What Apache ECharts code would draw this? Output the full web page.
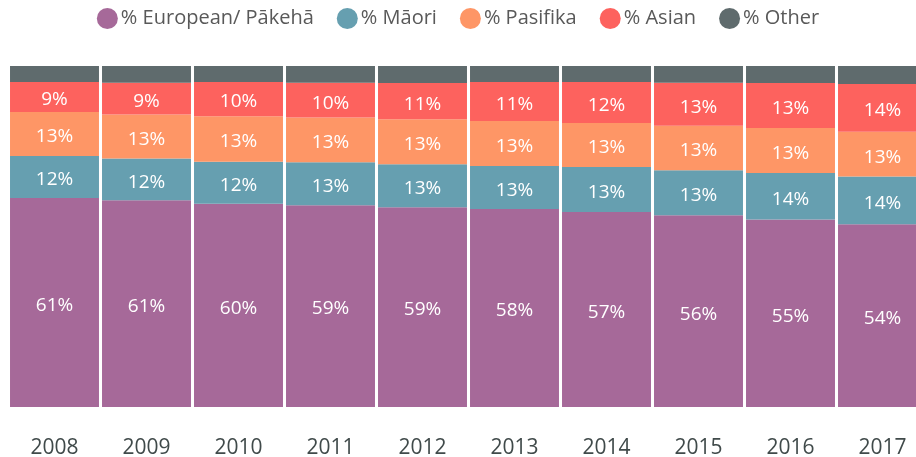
<!DOCTYPE html>
<html>
<head>
<meta charset="utf-8">
<script src="https://cdn.jsdelivr.net/npm/echarts@6/dist/echarts.min.js"></script>
<style>html,body{margin:0;padding:0;background:#fff;overflow:hidden;}#c{width:916px;height:457px;}</style>
</head>
<body>
<div id="c"></div>
<script>
var years = ['2008','2009','2010','2011','2012','2013','2014','2015','2016','2017'];
var european = [61.3, 60.6, 59.6, 59.2, 58.6, 58.1, 57.2, 56.2, 55.0, 53.6];
var maori    = [12.3, 12.3, 12.3, 12.6, 12.6, 12.6, 13.2, 13.2, 13.6, 14.0];
var pasifika = [12.9, 12.9, 13.4, 13.1, 13.2, 13.2, 12.9, 13.1, 13.2, 13.1];
var asian    = [8.8, 9.3, 10.0, 10.2, 10.6, 11.4, 12.0, 12.6, 13.2, 14.0];
var other    = [4.7, 4.9, 4.7, 4.9, 5.0, 4.7, 4.7, 4.9, 5.0, 5.3];
var seriesNames = ['% European/ Pākehā', '% Māori', '% Pasifika', '% Asian', '% Other'];
var colors = ['#A66999', '#669FB0', '#FE9666', '#FD625E', '#5F6B6D'];
var allData = [european, maori, pasifika, asian, other];

var FONT = '"Open Sans", sans-serif';
var chart = echarts.init(document.getElementById('c'), null, {renderer: 'canvas'});
var series = allData.map(function (d, i) {
  return {
    name: seriesNames[i],
    type: 'bar',
    stack: 'total',
    data: d,
    barCategoryGap: '3.3%',
    itemStyle: {color: colors[i]},
    label: {
      show: i < 4,
      position: 'inside',
      offset: [0, 3],
      color: '#ffffff',
      fontFamily: FONT,
      fontSize: 19,
      formatter: function (p) { return Math.round(p.value) + '%'; }
    }
  };
});
chart.setOption({
  animation: false,
  color: colors,
  legend: {
    top: 3,
    left: 'center',
    icon: 'circle',
    itemWidth: 21,
    itemHeight: 21,
    itemGap: 23,
    textStyle: {color: '#595959', fontFamily: FONT, fontSize: 20, padding: [0, 0, 0, -2]},
    data: seriesNames
  },
  grid: {left: 8.5, top: 66, width: 920, height: 341, outerBoundsMode: 'none', containLabel: false},
  xAxis: {
    type: 'category',
    data: years,
    axisLine: {show: false},
    axisTick: {show: false},
    axisLabel: {color: '#404a4a', fontFamily: FONT, fontSize: 21, margin: 31}
  },
  yAxis: {
    type: 'value',
    min: 0,
    max: 100,
    show: false
  },
  series: series
});
</script>
</body>
</html>
